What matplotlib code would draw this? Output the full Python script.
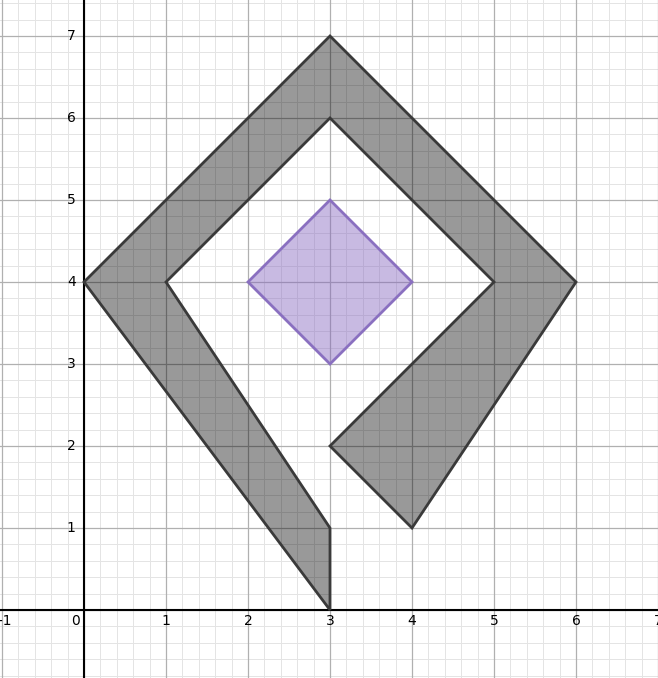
import numpy as np
import matplotlib.pyplot as plt

outer_x = [0, 3, 6, 4, 3, 5, 3, 1, 3, 3]
outer_y = [4, 7, 4, 1, 2, 4, 6, 4, 1, 0]
inner_x = [2, 3, 4, 3]
inner_y = [4, 5, 4, 3]
xticks = [-1, 0, 1, 2, 3, 4, 5, 6, 7]
yticks = [1, 2, 3, 4, 5, 6, 7]

fig = plt.figure(figsize=(6.58, 6.78), dpi=100)
ax = fig.add_axes([0, 0, 1, 1])
ax.set_xlim(-84/82, 574/82)
ax.set_ylim(-68/82, 610/82)
for s in ax.spines.values():
    s.set_visible(False)
ax.set_xticks([])
ax.set_yticks([])

for v in np.arange(-1, 7.5, 0.2):
    ax.axvline(v, color='#e4e4e4', lw=0.7, zorder=0)
for v in np.arange(-1, 8, 0.2):
    ax.axhline(v, color='#e4e4e4', lw=0.7, zorder=0)
for v in range(-1, 8):
    ax.axvline(v, color='#b0b0b0', lw=0.9, zorder=0)
    ax.axhline(v, color='#b0b0b0', lw=0.9, zorder=0)
ax.axhline(0, color='black', lw=1.5, zorder=1)
ax.axvline(0, color='black', lw=1.5, zorder=1)

ax.fill(outer_x, outer_y, facecolor=(0, 0, 0, 0.4), edgecolor='#3a3a3a', lw=2, zorder=2)
ax.fill(inner_x, inner_y, facecolor=(0.52, 0.40, 0.75, 0.45), edgecolor='#8a70c0', lw=2, zorder=3)

for t in xticks:
    lab = str(t) if t >= 0 else '\u2212' + str(-t)
    ax.text(t - 0.1 if t == 0 else t, -0.05, lab, ha='center', va='top', fontsize=10, zorder=4)
for t in yticks:
    ax.text(-0.1, t, str(t), ha='right', va='center', fontsize=10, zorder=4)

fig.savefig('out.png', dpi=100)
